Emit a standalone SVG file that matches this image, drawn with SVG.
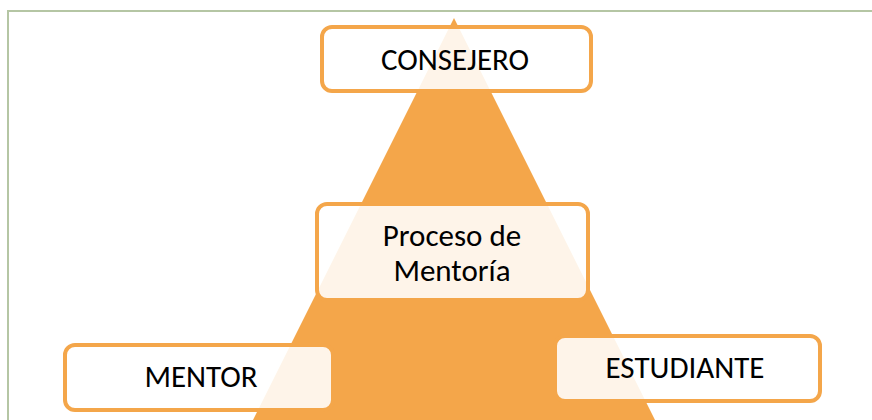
<svg xmlns="http://www.w3.org/2000/svg" width="872" height="420" viewBox="0 0 872 420">
<style>
.box{fill:#ffffff;fill-opacity:0.88;stroke:#F4A64A;stroke-width:4}
.lbl{font-family:Carlito,"Liberation Sans",sans-serif;font-size:31px;fill:#000;text-anchor:middle}
</style>
<rect x="0" y="0" width="872" height="420" fill="#ffffff"/>
<rect x="8" y="11" width="900" height="500" fill="none" stroke="#B5C6A4" stroke-width="2"/>
<polygon points="454,18 233,460 675,460" fill="#F4A64A"/>
<g id="consejero">
<rect class="box" x="322" y="27" width="269" height="64" rx="10"/>
<text class="lbl" x="455" y="70">CONSEJERO</text>
</g>
<g id="proceso">
<rect class="box" x="317" y="204" width="271" height="96" rx="10"/>
<text class="lbl" x="452" y="246">Proceso de</text>
<text class="lbl" x="452" y="281">Mentoría</text>
</g>
<g id="mentor">
<rect class="box" x="65" y="345" width="268" height="65" rx="10"/>
<text class="lbl" x="201" y="387">MENTOR</text>
</g>
<g id="estudiante">
<rect class="box" x="555" y="336" width="265" height="65" rx="10"/>
<text class="lbl" x="685" y="378">ESTUDIANTE</text>
</g>
<g id="connectors"></g>
</svg>
